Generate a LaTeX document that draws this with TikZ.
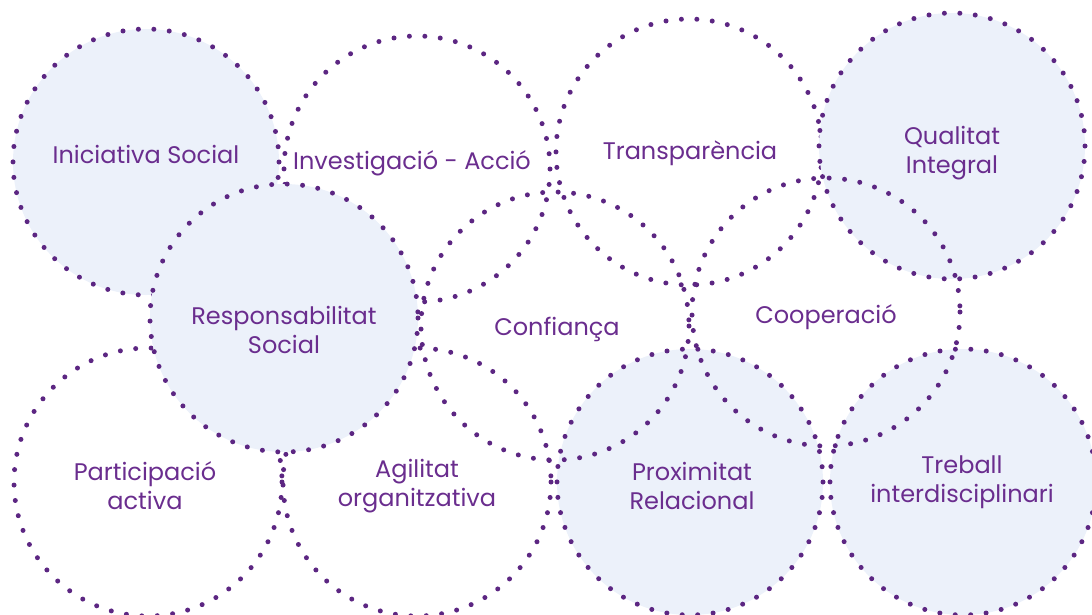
\documentclass[tikz,border=0pt]{standalone}
\usepackage{fontspec}
\setmainfont{Poppins}
\definecolor{dotpurple}{HTML}{5C2682}
\definecolor{textpurple}{HTML}{6A2D8E}
\definecolor{softfill}{HTML}{ECF1FA}
\begin{document}
\begin{tikzpicture}[x=1pt,y=-1pt,
		bubble/.style={draw=dotpurple,line width=5pt,line cap=round,dash pattern=on 0pt off 15.48pt},
		txt/.style={text=textpurple,align=center,font=\fontsize{24}{29}\selectfont,inner sep=0pt}]
			\useasboundingbox (0,0) rectangle (1092,614);
			
			\draw[bubble,fill=softfill] (146,162) circle (133);
			\draw[bubble] (417,169) circle (133);
			\draw[bubble] (689,152) circle (133);
			\draw[bubble,fill=softfill] (952,146) circle (133);
			
			\draw[bubble] (148,482) circle (134);
			\draw[bubble] (417,482) circle (134);
			\draw[bubble,fill=softfill] (690,482) circle (133);
			\draw[bubble,fill=softfill] (963,482) circle (133);
			
			\draw[bubble,fill=softfill] (284,318) circle (134);
			\draw[bubble] (555,326) circle (134);
			\draw[bubble] (826,312) circle (134);
			
			\node[txt] (iniciativa) at (146,154) {Iniciativa Social};
			\node[txt] (investigacio) at (412,163) {Investigació - Acció};
			\node[txt] (transparencia) at (690,153) {Transparència};
			\node[txt] (qualitat) at (952,153) {Qualitat\\Integral};
			\node[txt] (responsabilitat) at (284,330) {Responsabilitat\\Social};
			\node[txt] (confianca) at (557,329) {Confiança};
			\node[txt] (cooperacio) at (826,317) {Cooperació};
			\node[txt] (participacio) at (145,486) {Participació\\activa};
			\node[txt] (agilitat) at (417,486) {Agilitat\\organitzativa};
			\node[txt] (proximitat) at (692,486) {Proximitat\\Relacional};
			\node[txt] (treball) at (962,482) {Treball\\interdisciplinari};
		\end{tikzpicture}
\end{document}
